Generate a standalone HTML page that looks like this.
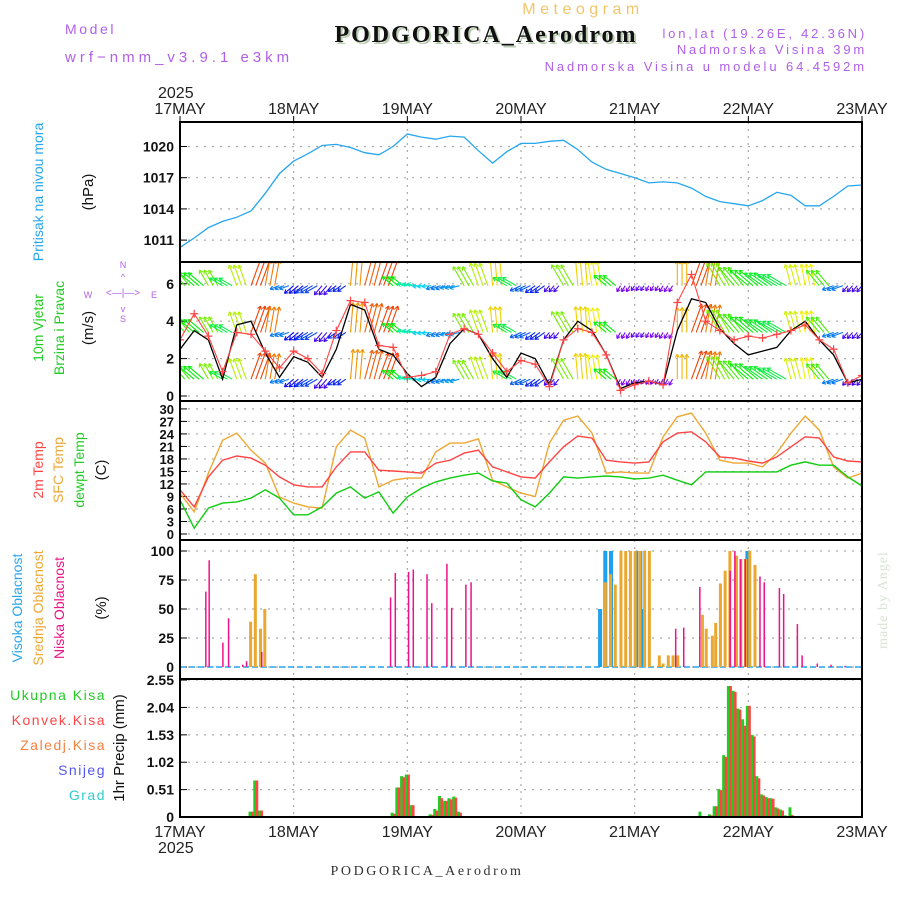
<!DOCTYPE html>
<html><head><meta charset="utf-8">
<style>
body{margin:0;background:#fff;}
#wrap{position:relative;width:900px;height:900px;overflow:hidden;font-family:"Liberation Sans",sans-serif;}
svg text{font-family:"Liberation Sans",sans-serif;}
</style></head>
<body>
<div id="wrap">
<svg id="chart" width="900" height="900" viewBox="0 0 900 900" xmlns="http://www.w3.org/2000/svg">
<g>
<text x="583" y="14" text-anchor="middle" font-size="16" fill="#f2c56a" letter-spacing="4.5">Meteogram</text>
<text x="488" y="44" text-anchor="middle" font-size="24" font-weight="bold" fill="#b9cbb0" style="font-family:'Liberation Serif',serif" letter-spacing="2">PODGORICA_Aerodrom</text>
<text x="486" y="42" text-anchor="middle" font-size="24" font-weight="bold" fill="#111" style="font-family:'Liberation Serif',serif" letter-spacing="2">PODGORICA_Aerodrom</text>
<text x="65" y="34" font-size="14" fill="#b060e8" letter-spacing="2.6">Model</text>
<text x="65" y="62" font-size="15" fill="#b060e8" letter-spacing="4">wrf−nmm_v3.9.1  e3km</text>
<text x="867" y="38" text-anchor="end" font-size="13" fill="#b060e8" letter-spacing="2.8">lon,lat (19.26E, 42.36N)</text>
<text x="867" y="54" text-anchor="end" font-size="13" fill="#b060e8" letter-spacing="2.8">Nadmorska Visina 39m</text>
<text x="867" y="71" text-anchor="end" font-size="13" fill="#b060e8" letter-spacing="2.9">Nadmorska Visina u modelu 64.4592m</text>
<text x="158" y="98" font-size="16" fill="#222">2025</text>
<text x="158" y="853" font-size="16" fill="#222">2025</text>
<text x="427" y="875" text-anchor="middle" font-size="14" fill="#333" style="font-family:'Liberation Serif',serif" letter-spacing="2.6">PODGORICA_Aerodrom</text>
<text transform="translate(887,600) rotate(-90)" text-anchor="middle" font-size="14" fill="#d8e4d4" style="font-family:'Liberation Serif',serif" letter-spacing="1">made by Angel</text>
</g>
<g>
<text transform="translate(43,192) rotate(-90)" text-anchor="middle" font-size="14" fill="#27a6ee">Pritisak na nivou mora</text>
<text transform="translate(93,192) rotate(-90)" text-anchor="middle" font-size="15" fill="#111">(hPa)</text>
<text transform="translate(43,328) rotate(-90)" text-anchor="middle" font-size="14" fill="#22cc22">10m Vjetar</text>
<text transform="translate(64,328) rotate(-90)" text-anchor="middle" font-size="14" fill="#22cc22">Brzina i Pravac</text>
<text transform="translate(93,328) rotate(-90)" text-anchor="middle" font-size="15" fill="#111">(m/s)</text>
<g fill="#b060e8" font-size="9" text-anchor="middle">
<text x="123" y="268">N</text><text x="123" y="322">S</text><text x="88" y="298">W</text><text x="154" y="298">E</text>
<text x="123" y="296" font-size="10">&lt;—|—&gt;</text>
<text x="123" y="280" font-size="9">^</text><text x="123" y="312" font-size="9">v</text>
</g>
<text transform="translate(43,470) rotate(-90)" text-anchor="middle" font-size="14" fill="#f44">2m Temp</text>
<text transform="translate(63,470) rotate(-90)" text-anchor="middle" font-size="14" fill="#eea733">SFC Temp</text>
<text transform="translate(84,470) rotate(-90)" text-anchor="middle" font-size="14" fill="#22cc22">dewpt Temp</text>
<text transform="translate(106,470) rotate(-90)" text-anchor="middle" font-size="15" fill="#111">(C)</text>
<text transform="translate(22,608) rotate(-90)" text-anchor="middle" font-size="14" fill="#27a6ee">Visoka Oblacnost</text>
<text transform="translate(43,608) rotate(-90)" text-anchor="middle" font-size="14" fill="#eea733">Srednja Oblacnost</text>
<text transform="translate(64,608) rotate(-90)" text-anchor="middle" font-size="14" fill="#ee1188">Niska Oblacnost</text>
<text transform="translate(106,608) rotate(-90)" text-anchor="middle" font-size="15" fill="#111">(%)</text>
<g font-size="14" text-anchor="end" letter-spacing="1.5">
<text x="106" y="700" fill="#22cc22">Ukupna  Kisa</text>
<text x="106" y="725" fill="#f44">Konvek.Kisa</text>
<text x="106" y="750" fill="#f5813f">Zaledj.Kisa</text>
<text x="106" y="775" fill="#5555ee">Snijeg</text>
<text x="106" y="800" fill="#33cccc">Grad</text>
</g>
<text transform="translate(124,748) rotate(-90)" text-anchor="middle" font-size="15" fill="#111">1hr Precip (mm)</text>
</g>
<g id="plots"></g>
</svg>
</div>
<script>
// ---- data (3-hourly, 49 points from 17MAY 00 to 23MAY 00) ----
const dayLabels = ["17MAY","18MAY","19MAY","20MAY","21MAY","22MAY","23MAY"];
const pressure = [1010.3,1011.2,1012.2,1012.8,1013.2,1013.8,1015.5,1017.4,1018.6,1019.3,1020.1,1020.2,1019.9,1019.4,1019.2,1020.0,1021.2,1020.9,1020.7,1021.0,1020.9,1019.6,1018.4,1019.5,1020.3,1020.3,1020.5,1020.6,1019.7,1018.5,1017.8,1017.4,1017.0,1016.5,1016.6,1016.5,1016.0,1015.2,1014.7,1014.5,1014.3,1014.8,1015.6,1015.3,1014.3,1014.3,1015.2,1016.2,1016.3];
const pressureTicks = [1011,1014,1017,1020];
const windSpeed = [2.5,3.5,3.0,0.9,3.8,4.0,2.3,1.0,2.1,1.8,1.0,2.5,4.9,4.6,2.5,2.2,1.2,0.5,1.0,2.8,3.6,3.3,2.0,1.0,2.3,2.0,0.6,3.0,4.0,3.5,2.2,0.4,0.7,0.8,0.6,3.5,5.2,5.0,3.6,2.8,2.2,2.4,2.6,3.5,4.0,3.0,2.2,0.7,0.9];
const windGust = [3.0,4.4,3.2,1.3,3.4,3.3,2.4,1.5,2.4,2.0,1.2,3.5,5.1,5.0,2.7,2.6,1.0,1.1,1.3,3.3,3.6,3.3,2.3,1.3,1.9,1.7,0.5,3.0,3.6,3.4,2.2,0.3,0.6,0.8,0.6,5.0,6.5,4.0,3.5,3.0,3.2,3.1,3.3,3.5,3.8,3.0,2.5,0.7,1.1];
const windDir = [130,140,120,150,110,70,80,200,220,210,230,215,85,75,70,140,170,185,200,195,120,110,95,150,205,215,230,120,95,100,140,240,235,240,240,90,70,80,120,130,140,145,150,105,100,130,200,230,230];
const windLen = [18,20,18,15,22,28,26,10,12,14,12,10,30,30,28,14,10,9,10,10,22,24,26,16,12,12,8,24,26,25,16,7,6,6,7,25,30,28,26,24,24,22,22,22,22,20,12,8,8];
const windRows = [0.9,3.4,5.9];
const windTicks = [0,2,4,6];
const temp2m = [10.6,6.5,13.7,17.7,18.7,18.2,16.5,13.7,11.8,11.3,11.3,16.1,19.7,19.7,15.3,15.1,14.9,14.6,17.0,17.7,19.4,20.1,16.1,14.9,13.7,13.4,17.3,20.9,23.5,23.0,17.7,17.3,17.0,17.3,22.1,24.2,24.5,22.1,18.5,18.2,17.5,17.0,18.5,20.9,23.3,23.0,18.5,17.5,17.3];
const tempSfc = [9.8,5.3,14.6,22.5,24.2,20.1,17.0,8.9,7.4,6.5,6.2,20.9,24.9,23.0,11.3,12.9,13.4,13.4,19.7,21.8,21.8,22.8,12.9,11.3,9.8,9.0,21.8,27.3,28.3,24.2,14.6,14.9,14.6,14.6,23.3,28.1,29.0,24.2,17.7,17.0,17.0,16.1,19.4,24.2,28.3,24.9,16.1,13.4,14.6];
const dewpt = [8.2,1.4,6.2,7.4,7.7,8.6,10.6,8.6,4.6,4.6,6.5,9.8,11.3,8.6,10.1,5.0,8.9,11.0,12.5,13.4,14.1,14.6,12.7,12.2,8.2,6.5,9.8,13.7,13.4,13.7,13.9,13.7,13.2,13.4,14.1,12.9,11.8,14.9,14.9,14.9,14.9,14.9,14.9,16.5,17.3,16.5,16.5,13.7,11.5];
const tempTicks = [0,3,6,9,12,15,18,21,24,27,30];
const lowHours = [5.3,6,8.9,10.1,13.1,13.9,17.1,44.3,45.3,48.1,49.1,52,53,56.2,57.2,60.2,61.3,104.5,106.2,109.6,116,117,118.2,119.2,122.3,123.2,126.4,127.3,130.2,131.2,134.4,137.3,140.3];
const lowVals = [65,92,21,42,2,5,13,60,81,82,84,80,55,89,51,71,73,33,34,69,83,100,93,93,78,73,68,63,37,10,3,2,1];
const midHours = [14.8,15.8,16.9,17.8,89.7,90.8,91.8,93,94,95,96,97,98,99,101.1,101.9,103,104,105,110.2,111,112.3,113,114,115,116,117.4,118.3,119.3,120.2,121.3];
const midVals = [39,80,33,50,73,80,71,100,100,100,100,100,100,100,10,3,10,10,10,45,33,27,38,72,83,100,96,93,93,100,88];
const highHours = [88.7,89.8,91,96.3,97.2,97.8,119.8];
const highVals = [50,100,100,100,100,50,100];
const cloudTicks = [0,25,50,75,100];
const precipHours = [15,16,17,45,46,47,48,49,53,54,55,56,57,58,59,110,112,113,114,115,116,117,118,119,120,121,122,123,124,125,126,127,128,129];
const totalRain = [0.1,0.68,0.12,0.08,0.55,0.76,0.79,0.22,0.05,0.15,0.39,0.3,0.35,0.38,0.1,0.1,0.05,0.2,0.52,1.15,2.44,2.35,2.02,1.82,2.07,1.53,0.76,0.42,0.37,0.35,0.18,0.14,0.03,0.18];
const convRain = [0.1,0.68,0.12,0.06,0.55,0.74,0.79,0.22,0.04,0.12,0.35,0.3,0.33,0.36,0.08,0.02,0.03,0.2,0.5,1.12,2.44,2.33,2.0,1.7,2.07,1.5,0.72,0.4,0.35,0.34,0.16,0.12,0.02,0.04];
const precipTicks = ["0","0.51","1.02","1.53","2.04","2.55"];

// ---- layout ----
const X0=180, X1=862, HOURS=144;
const NS="http://www.w3.org/2000/svg";
const plots=document.getElementById('plots');
function xh(h){return X0+(X1-X0)*h/HOURS;}
function xi(i){return xh(i*3);}
function mk(tag,attrs,parent){const e=document.createElementNS(NS,tag);for(const k in attrs)e.setAttribute(k,attrs[k]);(parent||plots).appendChild(e);return e;}
const panels={
 pres:{top:122,bot:262,y:v=>146.5+(1020-v)*10.4},
 wind:{top:262,bot:401,y:v=>396-v*18.7},
 temp:{top:401,bot:540,y:v=>534-v*4.17},
 cloud:{top:540,bot:679,y:v=>667-v*1.16},
 prec:{top:679,bot:817,y:v=>817-v*53.7}
};
const defs=mk('defs',{});
for(const k in panels){const p=panels[k];const cp=mk('clipPath',{id:'clip-'+k},defs);mk('rect',{x:X0,y:p.top,width:X1-X0,height:p.bot-p.top},cp);}
function hgrid(p,vals,labelFn,fs,name){
 const g=mk('g',{});
 
 
 vals.forEach(v=>{const y=p.y(parseFloat(v));
  mk('line',{x1:X0,x2:X1,y1:y,y2:y,stroke:'#aaa','stroke-width':1.2,'stroke-dasharray':'2 6'},g);
  mk('line',{x1:X0,x2:X0+7,y1:y,y2:y,stroke:'#000','stroke-width':1},g);
  const t=mk('text',{x:X0-6,y:y+5,'text-anchor':'end','font-size':fs,fill:'#111','font-weight':'bold'},g);t.textContent=labelFn(v);});
}
function vgrid(p){
 const g=mk('g',{});
 
 
 for(let d=1;d<6;d++){const x=xh(d*24);mk('line',{x1:x,x2:x,y1:p.top,y2:p.bot,stroke:'#aaa','stroke-width':1.2,'stroke-dasharray':'2 5'},g);}
}
for(const k in panels) vgrid(panels[k]);
hgrid(panels.pres,pressureTicks,v=>v,14,'pressure-y-axis');
hgrid(panels.wind,windTicks,v=>v,14,'wind-y-axis');
hgrid(panels.temp,tempTicks,v=>v,13,'temp-y-axis');
hgrid(panels.cloud,cloudTicks,v=>v,14,'cloud-y-axis');
hgrid(panels.prec,precipTicks,v=>v,14,'precip-y-axis');

function line(arr,p,color,name,w,clip){
 const d=arr.map((v,i)=>(i?'L':'M')+xi(i).toFixed(1)+','+p.y(v).toFixed(1)).join('');
 const e=mk('path',{d:d,fill:'none',stroke:color,'stroke-width':w||1.3,'clip-path':'url(#clip-'+clip+')'});
 
 
 return e;
}
line(pressure,panels.pres,'#27a6ee','pressure-line',1.3,'pres');
const ga=mk('g',{'clip-path':'url(#clip-wind)'});


windRows.forEach((rv,r)=>{
 const by=panels.wind.y(rv);
 windDir.forEach((dir,i)=>{
  for(let s=0;s<3;s++){
   const h=i*3+s; if(h>HOURS)break;
   const x=xh(h), a=dir*Math.PI/180, L=windLen[i];
   const x2=x+L*Math.cos(a), y2=by-L*Math.sin(a);
   let hue=(dir-60)*1.5; if(hue<0)hue=0; if(hue>275)hue=275;
   const col='hsl('+hue+',95%,48%)';
   const ar=mk('g',{stroke:col,'stroke-width':1.1,fill:'none'},ga);
   
   
   mk('line',{x1:x,y1:by,x2:x2,y2:y2},ar);
   const hl=4;[a+2.6,a-2.6].forEach(b=>mk('line',{x1:x2,y1:y2,x2:x2+hl*Math.cos(b),y2:y2-hl*Math.sin(b)},ar));
  }
 });
});
line(windSpeed,panels.wind,'#000','wind-speed-line',1.3,'wind');
line(windGust,panels.wind,'#ff4444','wind-gust-line',1.1,'wind');
const gm=mk('g',{stroke:'#ff4444','stroke-width':1.2,'clip-path':'url(#clip-wind)'});


windGust.forEach((v,i)=>{const x=xi(i),y=panels.wind.y(v);
 const m=mk('path',{d:`M${x-4},${y}H${x+4}M${x},${y-4}V${y+4}`},gm);
 
 });
line(tempSfc,panels.temp,'#eea733','sfc-temp-line',1.4,'temp');
line(temp2m,panels.temp,'#ff4444','temp-2m-line',1.4,'temp');
line(dewpt,panels.temp,'#11cc11','dewpt-line',1.4,'temp');
const cb=panels.cloud.y(0);
mk('line',{x1:X0,x2:X1,y1:cb,y2:cb,stroke:'#27a6ee','stroke-width':1.5,'stroke-dasharray':'6 3'});
function bars(hours,vals,p,color,w,dx,name){
 hours.forEach((h,i)=>{const x=xh(h)+dx, y=p.y(vals[i]);
  const b=mk('rect',{x:x,y:y,width:w,height:p.y(0)-y,fill:color});
  
  });
}
bars(highHours,highVals,panels.cloud,'#1ea0f0',4,-2,'high-cloud-bar');
bars(midHours,midVals,panels.cloud,'#eaa830',3,-1,'mid-cloud-bar');
bars(lowHours,lowVals,panels.cloud,'#ee1188',1.5,0,'low-cloud-bar');
bars(precipHours,totalRain,panels.prec,'#22cc22',3,-2.5,'total-rain-bar');
bars(precipHours,convRain,panels.prec,'#ff4444',2.5,0,'convective-rain-bar');
for(const k in panels){const p=panels[k];
 const f=mk('rect',{x:X0,y:p.top,width:X1-X0,height:p.bot-p.top,fill:'none',stroke:'#000','stroke-width':2});
 
 }
dayLabels.forEach((d,i)=>{const x=xh(i*24);
 mk('line',{x1:x,x2:x,y1:116,y2:122,stroke:'#000'});
 const t=mk('text',{x:x,y:114,'text-anchor':'middle','font-size':16,fill:'#222'});t.textContent=d;
 
 
 const t2=mk('text',{x:x,y:837,'text-anchor':'middle','font-size':16,fill:'#222'});t2.textContent=d;
 
 
});
</script>
</body></html>
